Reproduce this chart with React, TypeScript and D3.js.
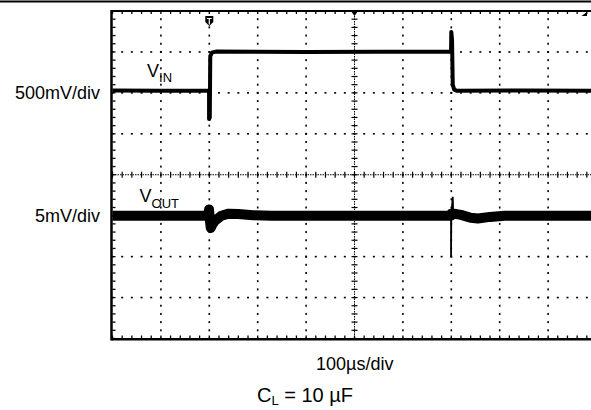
import * as d3 from "d3";

// scope screen: 10 x 8 divisions, values in divisions from screen centre
const timeDivs = d3.range(0, 11);
const levelDivs = d3.range(-4, 5);

// V_IN (500mV/div)
const vinTime = [0, 1.0, 1.995, 1.995, 2.01, 2.02, 2.06, 2.15, 4.0, 6.995, 7.0, 7.015, 7.03, 7.06, 7.12, 8.5, 10.1];
const vinLevel = [2.06, 2.05, 2.06, 1.36, 1.4, 2.9, 2.99, 3.01, 3.0, 3.01, 3.49, 3.3, 2.2, 2.08, 2.05, 2.06, 2.05];

// V_OUT (5mV/div), the noisy band
const voutTime = [0, 1.98, 1.995, 2.01, 2.03, 2.06, 2.12, 2.25, 2.4, 2.6, 2.9, 3.3, 6.99, 7.0, 7.05, 7.2, 7.4, 7.55, 7.8, 8.1, 10.1];
const voutLevel = [-1.0, -1.0, -0.85, -1.1, -1.3, -1.22, -1.12, -1.0, -0.95, -0.96, -0.99, -1.0, -1.0, -0.95, -0.95, -0.98, -1.05, -1.07, -1.03, -1.0, -1.0];

// V_OUT glitch on the falling edge
const spikeTime = [6.995, 6.995, 7.0, 7.03, 7.04];
const spikeLevel = [-1.0, -2.01, -1.0, -0.54, -1.0];

const triggerTime = 2.0;

const W = 591;
const H = 410;
const x = d3.scaleLinear().domain([0, 10]).range([112.5, 596.5]);
const y = d3.scaleLinear().domain([-4, 4]).range([338.5, 11]);

const line = d3
  .line<[number, number]>()
  .x((d) => x(d[0]))
  .y((d) => y(d[1]));

const zip = (a: number[], b: number[]) => a.map((t, i) => [t, b[i]] as [number, number]);

const minorX = d3.range(0, 50.5).map((i) => i * 0.2);
const minorY = d3.range(0, 40.5).map((i) => -4 + i * 0.2);

export default function App() {
  const font = "'Liberation Sans', Arial, sans-serif";
  return (
    <svg
      width={W}
      height={H}
      style={{ position: "absolute", left: 0, top: 0, display: "block", background: "#fff" }}
      fontFamily={font}
    >
      <rect width={W} height={H} fill="#fff" />
      <line x1={0} x2={W} y1={1.5} y2={1.5} stroke="#000" strokeWidth={2} />

      {/* dotted graticule */}
      <g fill="#000">
        {timeDivs
          .filter((t) => t > 0 && t < 10 && t !== 5)
          .map((t) =>
            minorY.map((v, j) => (
              <rect key={`v${t}-${j}`} x={x(t) - 0.8} y={y(v) - 1} width={1.6} height={2} />
            ))
          )}
        {levelDivs
          .filter((v) => v > -4 && v < 4 && v !== 0)
          .map((v) =>
            minorX.map((t, j) => (
              <rect key={`h${v}-${j}`} x={x(t) - 1} y={y(v) - 0.8} width={2} height={1.6} />
            ))
          )}
      </g>

      {/* centre axes with minor ticks */}
      <g stroke="#000">
        <line x1={x(0)} x2={W} y1={y(0)} y2={y(0)} strokeWidth={1} strokeDasharray="1.5 1" />
        <line x1={x(5)} x2={x(5)} y1={y(4)} y2={y(-4)} strokeWidth={1} strokeDasharray="1.5 1" />
        {minorX.map((t, i) => (
          <line key={`cx${i}`} x1={x(t)} x2={x(t)} y1={y(0) - 3} y2={y(0) + 3} strokeWidth={1.2} />
        ))}
        {minorY.map((v, i) => (
          <line key={`cy${i}`} x1={x(5) - 3} x2={x(5) + 3} y1={y(v)} y2={y(v)} strokeWidth={1.2} />
        ))}
        {/* border ticks */}
        {minorY.map((v, i) => (
          <line key={`ly${i}`} x1={x(0)} x2={x(0) + 3} y1={y(v)} y2={y(v)} strokeWidth={1.3} />
        ))}
        {minorX.map((t, i) => (
          <line key={`tx${i}`} x1={x(t)} x2={x(t)} y1={y(4)} y2={y(4) + 3} strokeWidth={1.3} />
        ))}
        {minorX.map((t, i) => (
          <line key={`bx${i}`} x1={x(t)} x2={x(t)} y1={y(-4)} y2={y(-4) - 3} strokeWidth={1.3} />
        ))}
        {/* frame */}
        <line x1={x(0) - 1} x2={W} y1={y(4)} y2={y(4)} strokeWidth={2} />
        <line x1={x(0) - 1} x2={W} y1={y(-4) + 0.8} y2={y(-4) + 0.8} strokeWidth={2.5} />
        <line x1={x(0) - 1} x2={x(0) - 1} y1={y(4) - 1} y2={y(-4) + 2} strokeWidth={2.5} />
      </g>

      {/* markers */}
      <path
        d={`M${x(triggerTime) - 4},${y(4) + 5} h8 v6 l-4,4 l-4,-4 z`}
        fill="#000"
      />
      <path
        d={`M${x(triggerTime) - 2.5},${y(4) + 7.5} h5 M${x(triggerTime)},${y(4) + 7.5} v6`}
        stroke="#fff"
        strokeWidth={1.2}
      />
      <path d={`M${x(5) - 3.5},${y(4)} h7 l-3.5,5 z`} fill="#000" />
      <path d={`M581.5,${y(4) + 5} L587,${y(4) + 1} L587,${y(4) + 5} z`} fill="#000" />

      {/* traces */}
      <path
        d={line(zip(voutTime, voutLevel)) ?? ""}
        fill="none"
        stroke="#000"
        strokeWidth={10}
        strokeLinejoin="round"
      />
      <path d={line(zip(spikeTime, spikeLevel)) ?? ""} fill="none" stroke="#000" strokeWidth={1.8} />
      <path
        d={line(zip(vinTime, vinLevel)) ?? ""}
        fill="none"
        stroke="#000"
        strokeWidth={4}
        strokeLinejoin="round"
      />

      {/* labels */}
      <g fill="#000" fontSize={18}>
        <text x={100} y={99} textAnchor="end">500mV/div</text>
        <text x={100} y={221.5} textAnchor="end">5mV/div</text>
        <text x={147} y={77}>
          V<tspan fontSize={13} dy={4.5}>IN</tspan>
        </text>
        <text x={139.5} y={201.5}>
          V<tspan fontSize={13} dy={6.5}>OUT</tspan>
        </text>
        <text x={316} y={370}>100µs/div</text>
        <text x={257} y={402} fontSize={20}>
          C<tspan fontSize={13} dy={3}>L</tspan>
          <tspan dy={-3}> = 10 µF</tspan>
        </text>
      </g>
    </svg>
  );
}
